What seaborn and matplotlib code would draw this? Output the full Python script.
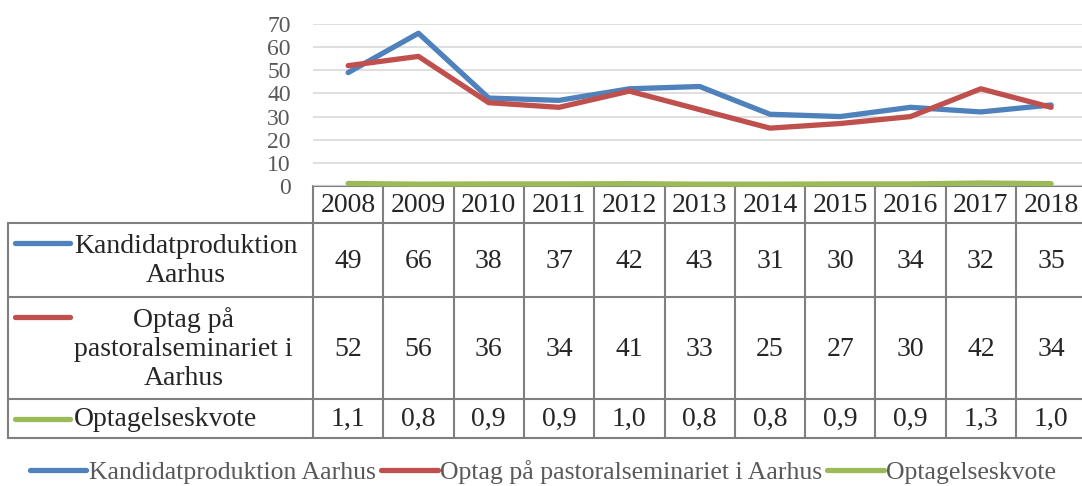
import matplotlib as mpl
import seaborn as sns
import pandas as pd
import numpy as np
plt = mpl.pyplot

years = ['2008', '2009', '2010', '2011', '2012', '2013', '2014', '2015', '2016', '2017', '2018']
kandidat = [49, 66, 38, 37, 42, 43, 31, 30, 34, 32, 35]
optag = [52, 56, 36, 34, 41, 33, 25, 27, 30, 42, 34]
kvote = [1.1, 0.8, 0.9, 0.9, 1.0, 0.8, 0.8, 0.9, 0.9, 1.3, 1.0]
series = ['Kandidatproduktion Aarhus', 'Optag på pastoralseminariet i Aarhus', 'Optagelseskvote']
row_labels = ['Kandidatproduktion\nAarhus', 'Optag på\npastoralseminariet i\nAarhus', 'Optagelseskvote']
colors = ['#4F81BD', '#C0504D', '#9BBB59']

sns.set_style('white')
mpl.rcParams['font.family'] = ['Liberation Serif', 'DejaVu Serif']

data = pd.DataFrame({
    'x': list(range(len(years))) * 3,
    'value': kandidat + optag + kvote,
    'serie': np.repeat(series, len(years)),
})

W, H = 1082, 486
fig = plt.figure(figsize=(W / 100, H / 100), dpi=100)

# table drawn in pixel coordinates
tax = fig.add_axes([0, 0, 1, 1])
tax.set_xlim(0, W)
tax.set_ylim(H, 0)
tax.axis('off')

x0, cw = 313, 70.3
lab_left = 8
rows_y = [186, 223, 297, 399, 438]
border = dict(color='#7f7f7f', lw=1.5)
fs = 20

ncol = len(years)
right = x0 + cw * ncol
# horizontal lines
tax.plot([x0, right], [rows_y[0]] * 2, **border)
for y in rows_y[1:]:
    tax.plot([lab_left, right], [y, y], **border)
# vertical lines
tax.plot([lab_left, lab_left], [rows_y[1], rows_y[-1]], **border)
for i in range(ncol + 1):
    tax.plot([x0 + cw * i] * 2, [rows_y[0], rows_y[-1]], **border)

for i, yr in enumerate(years):
    tax.text(x0 + cw * (i + 0.5), (rows_y[0] + rows_y[1]) / 2 + 1, yr,
             ha='center', va='center', fontsize=fs)

vals = [kandidat, optag, [f'{v:.1f}'.replace('.', ',') for v in kvote]]
for r in range(3):
    yc = (rows_y[r + 1] + rows_y[r + 2]) / 2 + 1
    for i in range(ncol):
        tax.text(x0 + cw * (i + 0.5), yc, str(vals[r][i]),
                 ha='center', va='center', fontsize=fs)
    tax.text(74, yc, row_labels[r], ha='left', va='center', fontsize=fs,
             multialignment='center', linespacing=1.22)
    ly = rows_y[r + 1] + 20
    tax.plot([15, 70], [ly, ly], color=colors[r], lw=3.8, solid_capstyle='round')

# line chart
ax = fig.add_axes([x0 / W, (H - 186) / H, cw * ncol / W, (186 - 24) / H])
ax.patch.set_visible(False)
sns.lineplot(data=data, x='x', y='value', hue='serie', palette=colors,
             linewidth=3.8, ax=ax, legend=False, clip_on=False)
ax.set_xlim(-0.5, ncol - 0.5)
ax.set_ylim(0, 70)
ax.set_yticks(range(0, 71, 10))
ax.set_xticks([])
ax.set_xlabel('')
ax.set_ylabel('')
ax.yaxis.grid(True, color='#d9d9d9', lw=1.2)
ax.set_axisbelow(True)
for s in ax.spines.values():
    s.set_visible(False)
ax.tick_params(axis='y', length=0, pad=16, labelsize=17, labelcolor='#595959')

handles = [mpl.lines.Line2D([], [], color=c, lw=3.8) for c in colors]
fig.legend(handles, series, loc='center', bbox_to_anchor=(0.502, (H - 472) / H),
           ncol=3, frameon=False, fontsize=18.5, handlelength=2.2,
           handletextpad=0.1, columnspacing=0.2, labelcolor='#595959')

plt.savefig('out.png', dpi=100)
